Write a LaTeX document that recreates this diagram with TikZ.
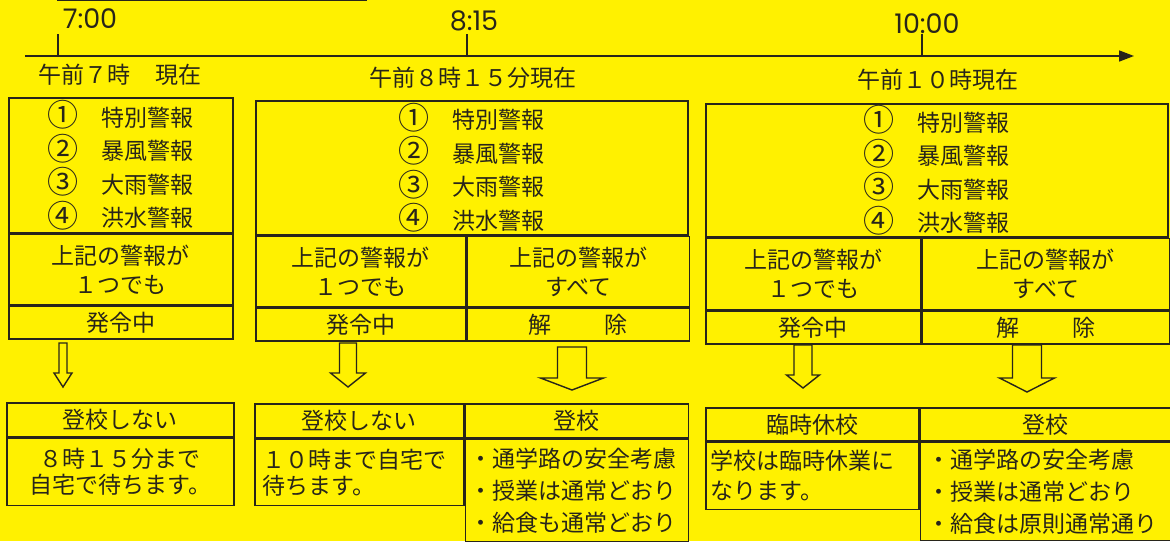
\documentclass[tikz,border=0pt]{standalone}
\usepackage{fontspec}
\setmainfont{Noto Sans CJK JP}
\newfontfamily\clockfont{Poppins}
\usetikzlibrary{arrows.meta}

\definecolor{sheet}{RGB}{255,241,0}
\definecolor{ink}{RGB}{40,37,26}

% hollow block arrow: top point, shaft half, head half, shaft length, head length
\newcommand{\holarrow}[5]{%
  \draw[hollow] (#1) ++(-#2,0) -- ++(0,#4) -- ++(#2-#3,0) -- ++(#3,#5)
    -- ++(#3,-#5) -- ++(#2-#3,0) -- ++(0,-#4) -- cycle;}
% circled number a little larger
\newcommand{\cnum}[1]{\raisebox{-0.6pt}{\scalebox{1.35}{#1}}\hspace{1.0em}}

\tikzset{
  cell/.style={draw=ink,line width=1.6pt,anchor=north west,inner sep=0pt,
    align=center,text=ink,font=\fontsize{23}{29}\selectfont},
  listcell/.style={cell,font=\fontsize{23}{33.5}\selectfont},
  leftcell/.style={cell,align=left,inner xsep=#1},
  heading/.style={text=ink,inner sep=0pt,font=\fontsize{23}{27}\selectfont},
  clock/.style={text=ink,inner sep=0pt,font=\clockfont\fontsize{27}{27}\selectfont},
  hollow/.style={draw=ink,line width=1.4pt},
  tickmark/.style={draw=ink,line width=2.6pt},
}

\begin{document}
\begin{tikzpicture}[x=1pt,y=-1pt,line width=1.6pt]
  \fill[sheet] (0,0) rectangle (1170,541);
  \useasboundingbox (0,0) rectangle (1170,541);

  % timeline
  %line
  \draw[ink,line width=1.5pt] (57,0.7) -- (367,0.7);
  \coordinate (tl0) at (25,56);
  \coordinate (tl1) at (1134,56);
  \draw[ink,-{Triangle[length=15pt,width=11pt]}] (tl0) -- (tl1);
  %ticks
  \coordinate (tk7) at (58,56);
  \coordinate (tk8) at (467,56);
  \coordinate (tk10) at (922,56);
  \draw[tickmark] (tk7) -- ++(0,-22) (tk8) -- ++(0,-22) (tk10) -- ++(0,-22);
  %labels
  \node[clock,at={(90,19)}] (at7) {7:00};
  \node[clock,at={(474,21)}] (at8) {8:15};
  \node[clock,at={(927,24)}] (at10) {10:00};
  \node[heading,at={(120,75)}] (hd7) {午前７時\hspace{1.1em}現在};
  \node[heading,at={(473,78)}] (hd8) {午前８時１５分現在};
  \node[heading,at={(938,80)}] (hd10) {午前１０時現在};

  % 7:00
  %warnings
  \node[listcell,minimum width=224,minimum height=135,at={(8,97)}] (warnA)
    {\cnum{①}特別警報\\\cnum{②}暴風警報\\\cnum{③}大雨警報\\\cnum{④}洪水警報};
  \node[cell,minimum width=224,minimum height=70,at={(warnA.south west)}] (condA)
    {上記の警報が\\１つでも};
  \node[cell,minimum width=224,minimum height=33,at={(condA.south west)}] (statA) {発令中};
  %result
  \coordinate (dnA) at (63,343);
  \holarrow{dnA}{4}{9}{30}{14}
  \node[cell,minimum width=227,minimum height=34,at={(6,402)}] (goA) {登校しない};
  \node[cell,font=\fontsize{23}{26}\selectfont,minimum width=227,minimum height=67,
    at={(goA.south west)}] (waitA) {８時１５分まで\\自宅で待ちます。};

  % 8:15
  %warnings
  \node[listcell,minimum width=432,minimum height=134,at={(255,100)}] (warnB)
    {\cnum{①}特別警報\\\cnum{②}暴風警報\\\cnum{③}大雨警報\\\cnum{④}洪水警報};
  \node[cell,minimum width=210,minimum height=70,at={(warnB.south west)}] (condB)
    {上記の警報が\\１つでも};
  \node[cell,minimum width=222,minimum height=70,at={(condB.north east)}] (clrB)
    {上記の警報が\\すべて};
  \node[cell,minimum width=210,minimum height=33,at={(condB.south west)}] (statB) {発令中};
  \node[cell,minimum width=222,minimum height=33,at={(clrB.south west)}] (liftB)
    {解\hspace{2.3em}除};
  %result
  \coordinate (dnB) at (348,343);
  \coordinate (upB) at (572,347);
  \holarrow{dnB}{8.5}{17.5}{30}{14}
  \holarrow{upB}{14.5}{31.5}{31}{12}
  \node[cell,minimum width=209,minimum height=34,at={(254,403)}] (goB) {登校しない};
  \node[leftcell=8,font=\fontsize{23}{26}\selectfont,text width=193,minimum height=66,
    at={(goB.south west)}] (waitB) {１０時まで自宅で\\待ちます。};
  \node[cell,minimum width=223,minimum height=34,at={(goB.north east)}] (schoolB) {登校};
  \node[leftcell=4,font=\fontsize{23}{32}\selectfont,text width=215,minimum height=102,
    at={(schoolB.south west)}] (normB)
    {・通学路の安全考慮\\・授業は通常どおり\\・給食も通常どおり};

  % 10:00
  %warnings
  \node[listcell,minimum width=462,minimum height=133,at={(705,103)}] (warnC)
    {\cnum{①}特別警報\\\cnum{②}暴風警報\\\cnum{③}大雨警報\\\cnum{④}洪水警報};
  \node[cell,minimum width=215,minimum height=71,at={(warnC.south west)}] (condC)
    {上記の警報が\\１つでも};
  \node[cell,minimum width=247,minimum height=71,at={(condC.north east)}] (clrC)
    {上記の警報が\\すべて};
  \node[cell,minimum width=215,minimum height=33,at={(condC.south west)}] (statC) {発令中};
  \node[cell,minimum width=247,minimum height=33,at={(clrC.south west)}] (liftC)
    {解\hspace{2.3em}除};
  %result
  \coordinate (dnC) at (803,345);
  \coordinate (upC) at (1027,345);
  \holarrow{dnC}{9}{16.5}{30}{13}
  \holarrow{upC}{14.5}{27.5}{33}{14}
  \node[cell,minimum width=213,minimum height=33,at={(705,407)}] (closeC) {臨時休校};
  \node[leftcell=5,font=\fontsize{23}{30}\selectfont,text width=203,minimum height=67,
    at={(closeC.south west)}] (waitC) {学校は臨時休業に\\なります。};
  \node[cell,minimum width=250,minimum height=33,at={(closeC.north east)}] (schoolC) {登校};
  \node[leftcell=7,font=\fontsize{23}{32}\selectfont,text width=236,minimum height=98,
    at={(schoolC.south west)}] (normC)
    {・通学路の安全考慮\\・授業は通常どおり\\・給食は原則通常通り};
\end{tikzpicture}
\end{document}
